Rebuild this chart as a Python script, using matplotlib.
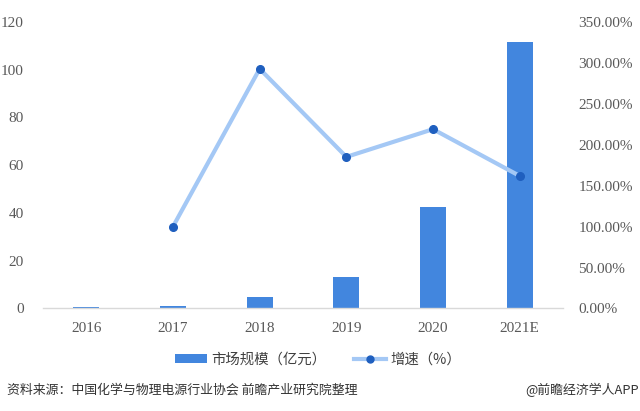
import matplotlib
matplotlib.use("Agg")
import matplotlib.pyplot as plt
from matplotlib.ticker import FuncFormatter
from matplotlib.lines import Line2D
from matplotlib.patches import Patch

years = ["2016", "2017", "2018", "2019", "2020", "2021E"]
market_size = [0.7, 1.0, 4.7, 13.3, 42.6, 111.5]
growth_years = ["2017", "2018", "2019", "2020", "2021E"]
growth_pct = [100.0, 292.5, 185.0, 218.8, 161.8]
left_ticks = [0, 20, 40, 60, 80, 100, 120]
right_ticks = [0, 50, 100, 150, 200, 250, 300, 350]

cjk = ["Noto Sans CJK SC", "DejaVu Sans"]
serif = ["Liberation Serif", "DejaVu Serif"]

bar_color = "#4286de"
line_color = "#a4c8f5"
marker_color = "#1f5fbf"

fig = plt.figure(figsize=(6.4, 4.11), dpi=100)
ax = fig.add_axes([0.0672, 0.2494, 0.8125, 0.6978])
x = list(range(len(years)))
ax.bar(x, market_size, width=0.3, color=bar_color, zorder=2)
ax.set_xlim(-0.5, len(years) - 0.5)
ax.set_ylim(0, 120)
ax.set_yticks(left_ticks)
ax.set_xticks(x)
ax.set_xticklabels(years)
for s in ["top", "right", "left"]:
    ax.spines[s].set_visible(False)
ax.spines["bottom"].set_color("#d9d9d9")
ax.spines["bottom"].set_linewidth(1.0)
ax.tick_params(axis="both", length=0, labelsize=11, colors="#595959")
ax.tick_params(axis="y", pad=14)
ax.tick_params(axis="x", pad=10)
for lab in ax.get_xticklabels() + ax.get_yticklabels():
    lab.set_family(serif)

ax2 = ax.twinx()
gx = [years.index(g) for g in growth_years]
ax2.plot(gx, growth_pct, color=line_color, linewidth=3, zorder=3,
         marker="o", markersize=5.5, markerfacecolor=marker_color,
         markeredgecolor=marker_color)
ax2.set_ylim(0, 350)
ax2.set_yticks(right_ticks)
ax2.yaxis.set_major_formatter(FuncFormatter(lambda v, p: f"{v:.2f}%"))
for s in ["top", "right", "left", "bottom"]:
    ax2.spines[s].set_visible(False)
ax2.tick_params(axis="y", length=0, labelsize=11, colors="#595959", pad=11)
for lab in ax2.get_yticklabels():
    lab.set_family(serif)

handles = [
    Patch(facecolor=bar_color, edgecolor="none"),
    Line2D([0], [0], color=line_color, linewidth=3, marker="o", markersize=5,
           markerfacecolor=marker_color, markeredgecolor=marker_color),
]
fig.legend(handles, ["市场规模（亿元）", "增速（%）"], loc="center",
           bbox_to_anchor=(0.497, 0.125), ncol=2, frameon=False,
           prop={"family": cjk, "size": 10.4}, handlelength=2.2,
           handleheight=0.5, handletextpad=0.3, columnspacing=1.9,
           labelcolor="#404040")

fig.text(0.011, 0.051, "资料来源：中国化学与物理电源行业协会 前瞻产业研究院整理",
         family=cjk, fontsize=9.3, color="#333333", va="center", ha="left")
fig.text(0.999, 0.051, "@前瞻经济学人APP", family=cjk, fontsize=9.3,
         color="#333333", va="center", ha="right")

fig.savefig("out.png", dpi=100)
